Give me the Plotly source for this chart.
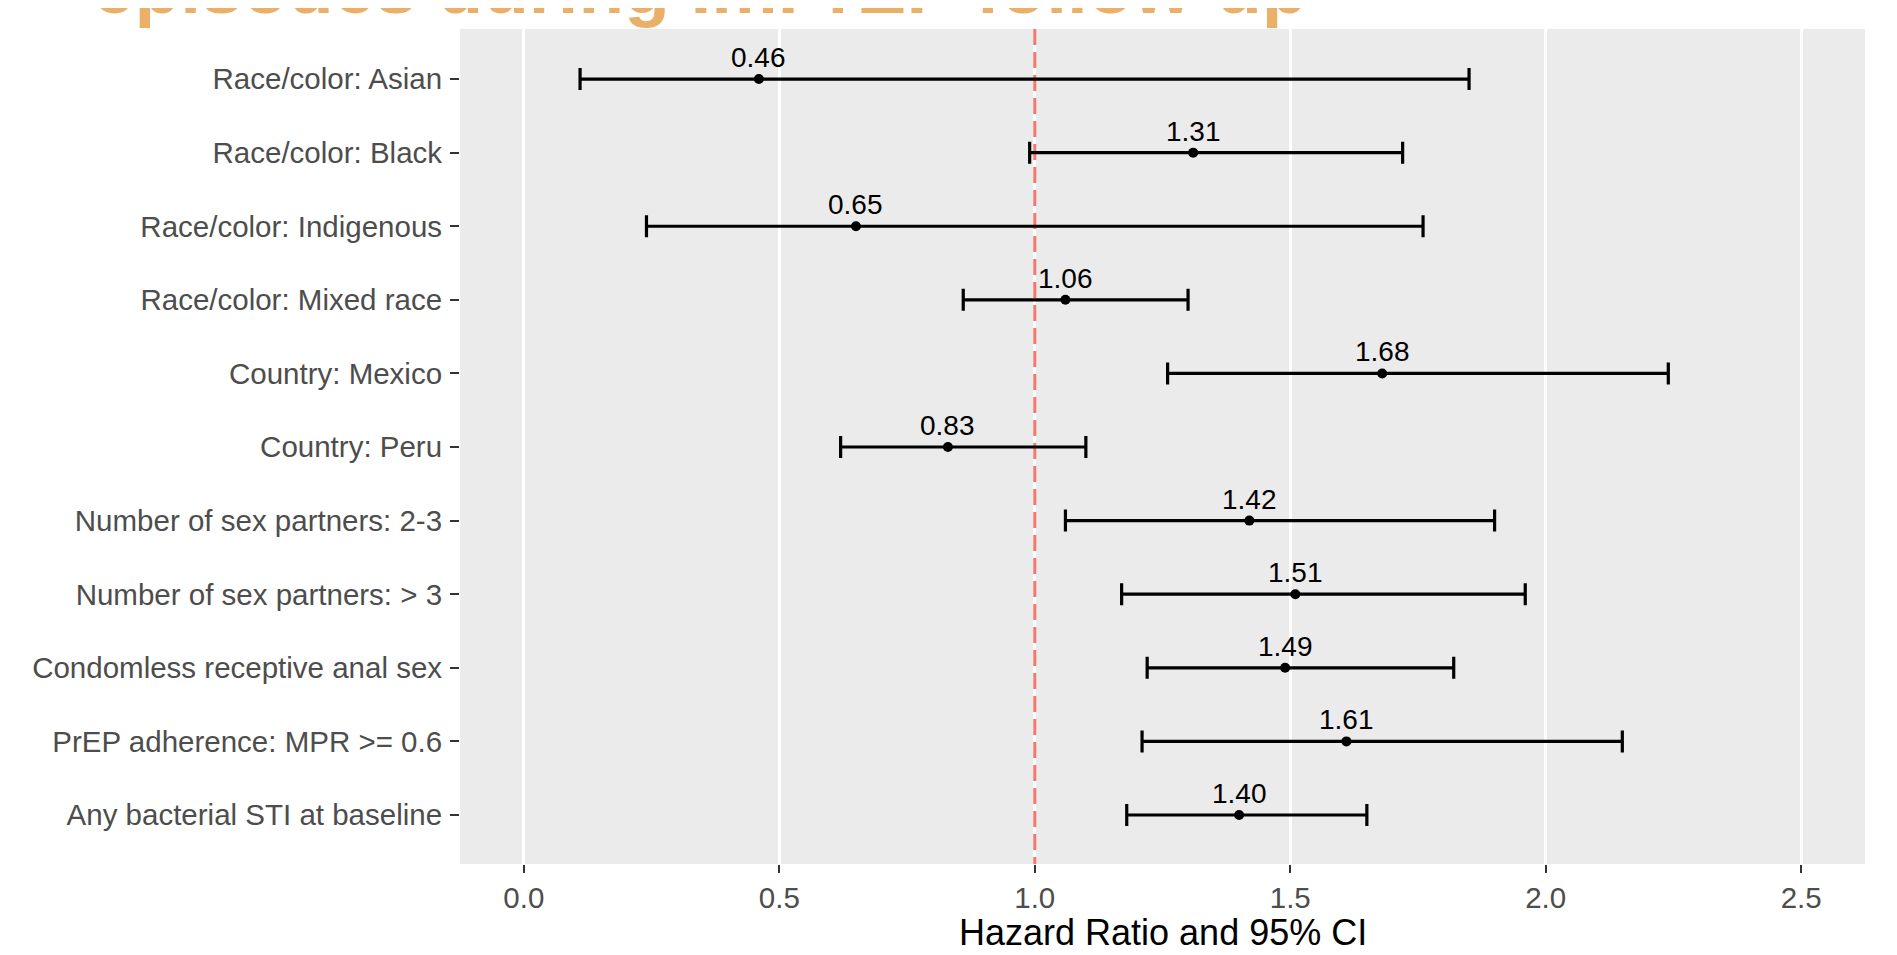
import plotly.graph_objects as go

categories = [
    "Race/color: Asian",
    "Race/color: Black",
    "Race/color: Indigenous",
    "Race/color: Mixed race",
    "Country: Mexico",
    "Country: Peru",
    "Number of sex partners: 2-3",
    "Number of sex partners: > 3",
    "Condomless receptive anal sex",
    "PrEP adherence: MPR >= 0.6",
    "Any bacterial STI at baseline",
]
hr = [0.46, 1.31, 0.65, 1.06, 1.68, 0.83, 1.42, 1.51, 1.49, 1.61, 1.40]
ci_low = [0.11, 0.99, 0.24, 0.86, 1.26, 0.62, 1.06, 1.17, 1.22, 1.21, 1.18]
ci_high = [1.85, 1.72, 1.76, 1.30, 2.24, 1.10, 1.90, 1.96, 1.82, 2.15, 1.65]
x_ticks = [0.0, 0.5, 1.0, 1.5, 2.0, 2.5]
x_ticktext = ["0.0", "0.5", "1.0", "1.5", "2.0", "2.5"]
reference_hr = 1.0
title_text = "episodes during ImPrEP follow-up"
x_title = "Hazard Ratio and 95% CI"

FONT = "Liberation Sans, Arial, Helvetica, sans-serif"
ypos = list(range(len(categories)))
y_range = [10.666, -0.68]
x_range = [-0.125, 2.625]

fig = go.Figure()

# reference line at HR = 1 (drawn first so the error bars sit on top)
fig.add_trace(go.Scatter(
    x=[reference_hr, reference_hr], y=[min(y_range), max(y_range)], mode="lines",
    line=dict(color="#F8766D", width=3, dash="16px,7px"),
    hoverinfo="skip", showlegend=False,
))

fig.add_trace(go.Scatter(
    x=hr, y=ypos, mode="markers",
    marker=dict(color="black", size=10),
    error_x=dict(
        type="data", symmetric=False,
        array=[h - l for h, l in zip(ci_high, hr)],
        arrayminus=[h - l for h, l in zip(hr, ci_low)],
        color="black", thickness=3.2, width=11,
    ),
    hoverinfo="skip", showlegend=False,
))

for h, y in zip(hr, ypos):
    fig.add_annotation(
        x=h, y=y, xref="x", yref="y", text=f"{h:.2f}", showarrow=False,
        yanchor="bottom", yshift=4,
        font=dict(family=FONT, size=28, color="black"),
    )

# chart title (cut at the top edge, as in the original)
fig.add_annotation(
    x=-0.2626, y=1.0500, xref="paper", yref="paper", xanchor="left", yanchor="middle",
    text=f"<b>{title_text}</b>", showarrow=False,
    font=dict(family=FONT, size=74.7, color="#EBAF68"),
)

# x-axis title
fig.add_annotation(
    x=0.5, y=-0.0826, xref="paper", yref="paper", xanchor="center", yanchor="middle",
    text=x_title, showarrow=False,
    font=dict(family=FONT, size=36, color="black"),
)

fig.update_layout(
    width=1881, height=939,
    margin=dict(l=452, r=24, t=21, b=83, autoexpand=False),
    paper_bgcolor="white", plot_bgcolor="#EBEBEB",
    font=dict(family=FONT),
    xaxis=dict(
        range=x_range, tickvals=x_ticks, ticktext=x_ticktext,
        showgrid=True, gridcolor="white", gridwidth=2.6, zeroline=False,
        ticks="outside", ticklen=8, tickwidth=2, tickcolor="#333333",
        tickfont=dict(family=FONT, size=29.5, color="#4D4D4D"),
        ticklabelstandoff=0,
        showline=False, automargin=False,
    ),
    yaxis=dict(
        range=y_range, tickvals=ypos, ticktext=categories,
        showgrid=False, zeroline=False,
        ticks="outside", ticklen=9, tickwidth=2, tickcolor="#333333",
        tickfont=dict(family=FONT, size=29.5, color="#4D4D4D"),
        ticklabelstandoff=2,
        showline=False, automargin=False,
    ),
)

fig.write_html("out.html")
